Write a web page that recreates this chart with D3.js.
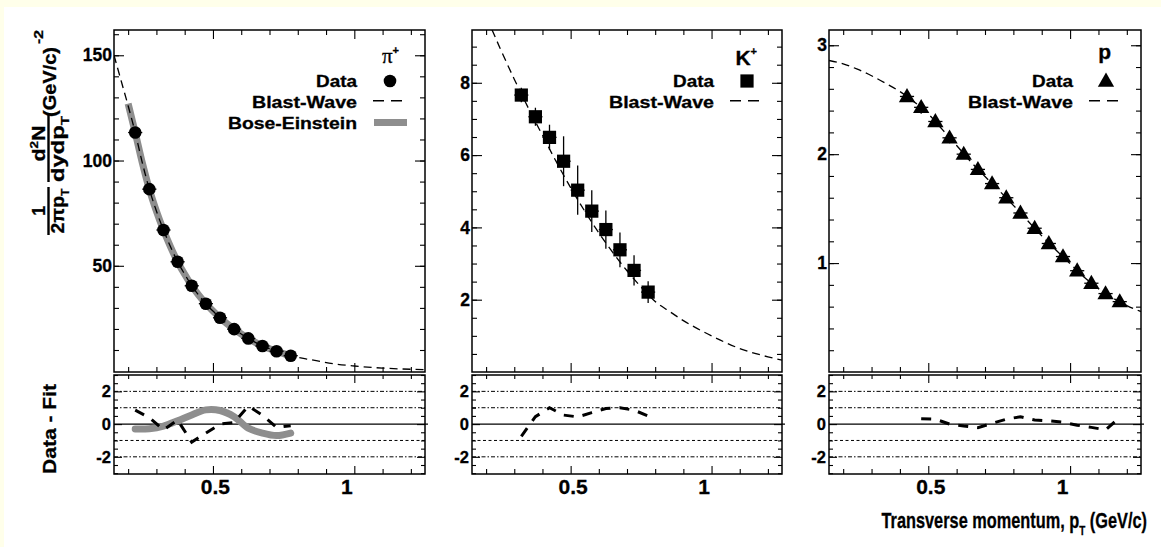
<!DOCTYPE html>
<html><head><meta charset="utf-8">
<script src="https://cdn.jsdelivr.net/npm/d3@7"></script>
<style>
html,body{margin:0;padding:0;background:#fff;}
svg{display:block;}
text{font-family:"Liberation Sans",Arial,Helvetica,sans-serif;font-weight:bold;fill:#000;stroke:#000;stroke-width:0.3px;}
</style></head><body>
<svg id="chart" width="1161" height="547"></svg>
<script>
// ---------------- DATA ----------------
// pi+ spectrum
const piPt  = [0.225,0.275,0.325,0.375,0.425,0.475,0.525,0.575,0.625,0.675,0.725,0.775];
const piVal = [113.3,86.4,67.0,51.9,40.5,32.0,25.3,19.9,15.5,11.9,9.4,7.3];
const piErr = [2.0,1.6,1.3,1.0,0.8,0.7,0.6,0.5,0.4,0.35,0.3,0.25];
const piBwResid = [0.85,0.4,-0.35,0.25,-1.1,-0.55,0.0,0.1,1.1,0.55,-0.2,-0.1];
const piBeResid = [-0.3,-0.28,-0.12,0.2,0.56,0.87,0.83,0.45,-0.25,-0.55,-0.7,-0.55];
const piBwCurvePt  = [0.15,0.175,0.2,0.225,0.25,0.275,0.3,0.325,0.35,0.375,0.4,0.425,0.45,0.475,0.5,0.525,0.55,0.575,0.6,0.625,0.65,0.675,0.7,0.725,0.75,0.775,0.85,0.925,1.0,1.1,1.25];
const piBwCurveVal = [150,138,126,113.3,99,86.4,76,67,59,51.9,46,40.5,36,32,28.5,25.3,22.5,19.9,17.6,15.5,13.6,11.9,10.6,9.4,8.3,7.3,5.3,3.5,2.4,1.4,0.7];
const piBeCurvePt  = [0.2,0.225,0.25,0.275,0.3,0.325,0.35,0.375,0.4,0.425,0.45,0.475,0.5,0.525,0.55,0.575,0.6,0.625,0.65,0.675,0.7,0.725,0.75,0.775];
const piBeCurveVal = [127,113.3,99,86.4,76,67,59,51.9,46,40.5,36,32,28.5,25.3,22.5,19.9,17.6,15.5,13.6,11.9,10.6,9.4,8.3,7.3];

// K+ spectrum
const kPt  = [0.325,0.375,0.425,0.475,0.525,0.575,0.625,0.675,0.725,0.775];
const kVal = [7.66,7.06,6.49,5.83,5.03,4.45,3.94,3.38,2.81,2.21];
const kErr = [0.2,0.25,0.35,0.69,0.68,0.58,0.53,0.48,0.42,0.3];
const kBwResid = [-0.75,0.45,1.0,0.55,0.44,0.7,0.95,1.0,0.85,0.5];
const kBwCurvePt  = [0.15,0.2,0.25,0.3,0.35,0.4,0.45,0.5,0.55,0.6,0.65,0.7,0.75,0.8,0.85,0.9,0.95,1.0,1.1,1.2,1.25];
const kBwCurveVal = [10.8,9.85,8.95,8.1,7.3,6.55,5.8,5.1,4.45,3.85,3.3,2.8,2.35,1.95,1.68,1.42,1.2,1.0,0.65,0.42,0.33];

// proton spectrum
const pPt  = [0.425,0.475,0.525,0.575,0.625,0.675,0.725,0.775,0.825,0.875,0.925,0.975,1.025,1.075,1.125,1.175];
const pVal = [2.53,2.43,2.30,2.15,2.00,1.86,1.73,1.60,1.46,1.32,1.18,1.06,0.93,0.815,0.72,0.646];
const pErr = [0.04,0.06,0.05,0.05,0.04,0.04,0.04,0.04,0.04,0.04,0.03,0.03,0.03,0.03,0.03,0.03];
const pResidPt = [0.475,0.525,0.575,0.625,0.675,0.725,0.775,0.825,0.875,0.925,0.975,1.025,1.075,1.125,1.175];
const pBwResid = [0.33,0.3,0.0,-0.12,-0.22,0.05,0.3,0.45,0.25,0.2,0.12,-0.07,-0.2,-0.35,0.4];
const pBwCurvePt  = [0.15,0.2,0.25,0.3,0.35,0.4,0.45,0.5,0.55,0.6,0.65,0.7,0.75,0.8,0.85,0.9,0.95,1.0,1.05,1.1,1.15,1.2,1.25];
const pBwCurveVal = [2.86,2.83,2.78,2.72,2.65,2.575,2.48,2.37,2.225,2.08,1.93,1.795,1.665,1.53,1.39,1.25,1.12,0.995,0.87,0.765,0.68,0.61,0.555];

const ptHalfBin = 0.025;

// axis ticks / labels
const xTickValues = [0.5, 1.0];
const xTickLabels = ["0.5", "1"];
const piYTickValues = [50, 100, 150];
const piYTickLabels = ["50", "100", "150"];
const kYTickValues = [2, 4, 6, 8];
const kYTickLabels = ["2", "4", "6", "8"];
const pYTickValues = [1, 2, 3];
const pYTickLabels = ["1", "2", "3"];
const resYTickValues = [-2, 0, 2];
const resYTickLabels = ["-2", "0", "2"];
const resRefLines = [2, 1, -1, -2];

const legendData = ["Data", "Blast-Wave", "Bose-Einstein"];

// ---------------- DRAWING ----------------
const W = 1161, H = 547;
const svg = d3.select("#chart");
svg.append("rect").attr("width", W).attr("height", H).attr("fill", "#ffffea");
svg.append("rect").attr("x", 4).attr("y", 7).attr("width", W - 4).attr("height", H - 7).attr("fill", "#fff");

const upperTop = 30, upperBot = 372, lowerTop = 375, lowerBot = 474;
const xDomain = [0.15, 1.25];
const GRAY = "#8e8e8e";

const panels = [
  { id: "pi", x0: 114, x1: 425, yDom: [-0.45, 162], yTicks: piYTickValues, yLabels: piYTickLabels, yMinor: d3.range(10, 161, 10),
    pt: piPt, val: piVal, err: piErr, marker: "circle",
    bwPt: piBwCurvePt, bwVal: piBwCurveVal, resPt: piPt, bwRes: piBwResid,
    bePt: piBeCurvePt, beVal: piBeCurveVal, beRes: piBeResid },
  { id: "k", x0: 472, x1: 782, yDom: [0, 9.46], yTicks: kYTickValues, yLabels: kYTickLabels, yMinor: d3.range(0.5, 9.4, 0.5),
    pt: kPt, val: kVal, err: kErr, marker: "square",
    bwPt: kBwCurvePt, bwVal: kBwCurveVal, resPt: kPt, bwRes: kBwResid },
  { id: "p", x0: 829, x1: 1141, yDom: [0, 3.14], yTicks: pYTickValues, yLabels: pYTickLabels, yMinor: d3.range(0.2, 3.1, 0.2),
    pt: pPt, val: pVal, err: pErr, marker: "triangle",
    bwPt: pBwCurvePt, bwVal: pBwCurveVal, resPt: pResidPt, bwRes: pBwResid }
];

function ticks(g, scale, orient, pos, values, size) {
  const gen = orient === "bottom" ? d3.axisBottom : orient === "top" ? d3.axisTop : orient === "left" ? d3.axisLeft : d3.axisRight;
  const axis = gen(scale).tickValues(values).tickSize(-size).tickFormat("");
  const tr = (orient === "bottom" || orient === "top") ? `translate(0,${pos})` : `translate(${pos},0)`;
  const a = g.append("g").attr("transform", tr).call(axis);
  a.select(".domain").remove();
  a.selectAll("line").attr("stroke", "#000").attr("stroke-width", 1.1);
  return a;
}
function styleLabels(sel, size) {
  sel.selectAll("text").attr("font-size", size).attr("font-family", "Liberation Sans, Arial, sans-serif")
    .attr("font-weight", "bold").attr("fill", "#000").attr("stroke", "#000").attr("stroke-width", 0.3);
}

panels.forEach((P, pi) => {
  const g = svg.append("g");
  const x = d3.scaleLinear().domain(xDomain).range([P.x0, P.x1]);
  const y = d3.scaleLinear().domain(P.yDom).range([upperBot, upperTop]);
  const yr = d3.scaleLinear().domain([-3.05, 3.0]).range([lowerBot, lowerTop]);
  const xMinor = d3.range(0.2, 1.21, 0.1).filter(v => Math.abs(v - 0.5) > 1e-6 && Math.abs(v - 1.0) > 1e-6);
  const resMinor = d3.range(-3, 3.01, 0.5).filter(v => Math.abs(v % 2) > 1e-6);

  const cu = "clipU" + pi, cl = "clipL" + pi;
  const defs = svg.append("defs");
  defs.append("clipPath").attr("id", cu).append("rect").attr("x", P.x0).attr("y", upperTop).attr("width", P.x1 - P.x0).attr("height", upperBot - upperTop);
  defs.append("clipPath").attr("id", cl).append("rect").attr("x", P.x0).attr("y", lowerTop).attr("width", P.x1 - P.x0).attr("height", lowerBot - lowerTop);

  // ---------- upper panel ----------
  const up = g.append("g").attr("clip-path", `url(#${cu})`);
  const line = d3.line().x(d => x(d[0])).y(d => y(d[1])).curve(d3.curveMonotoneX);
  if (P.bePt) {
    up.append("path").datum(d3.zip(P.bePt, P.beVal)).attr("d", line)
      .attr("fill", "none").attr("stroke", GRAY).attr("stroke-width", 7);
  }
  up.append("path").datum(d3.zip(P.bwPt, P.bwVal)).attr("d", line)
    .attr("fill", "none").attr("stroke", "#000").attr("stroke-width", 1.3).attr("stroke-dasharray", "8,5");

  const pts = d3.zip(P.pt, P.val, P.err);
  up.selectAll(".ev").data(pts).join("line")
    .attr("x1", d => x(d[0])).attr("x2", d => x(d[0]))
    .attr("y1", d => y(d[1] - d[2])).attr("y2", d => y(d[1] + d[2]))
    .attr("stroke", "#000").attr("stroke-width", 1.3);
  up.selectAll(".eh").data(pts).join("line")
    .attr("x1", d => x(d[0] - ptHalfBin)).attr("x2", d => x(d[0] + ptHalfBin))
    .attr("y1", d => y(d[1])).attr("y2", d => y(d[1]))
    .attr("stroke", "#000").attr("stroke-width", 1.3);

  const sym = P.marker === "circle" ? d3.symbolCircle : P.marker === "square" ? d3.symbolSquare : d3.symbolTriangle;
  const symSize = P.marker === "circle" ? 125 : P.marker === "square" ? 175 : 115;
  up.selectAll(".mk").data(pts).join("path")
    .attr("d", d3.symbol(sym, symSize))
    .attr("transform", d => `translate(${x(d[0])},${y(d[1]) + (P.marker === "triangle" ? 1 : 0)})`)
    .attr("fill", "#000");

  g.append("rect").attr("x", P.x0).attr("y", upperTop).attr("width", P.x1 - P.x0).attr("height", upperBot - upperTop)
    .attr("fill", "none").attr("stroke", "#000").attr("stroke-width", 1.5);
  ticks(g, x, "bottom", upperBot, xTickValues, 9);
  ticks(g, x, "bottom", upperBot, xMinor, 5);
  ticks(g, x, "top", upperTop, xTickValues, 9);
  ticks(g, x, "top", upperTop, xMinor, 5);
  ticks(g, y, "left", P.x0, P.yTicks, 10);
  ticks(g, y, "left", P.x0, P.yMinor, 5);
  ticks(g, y, "right", P.x1, P.yTicks, 10);
  ticks(g, y, "right", P.x1, P.yMinor, 5);
  const yl = g.append("g").attr("transform", `translate(${P.x0},0)`)
    .call(d3.axisLeft(y).tickValues(P.yTicks).tickFormat((d, i) => P.yLabels[i]).tickSize(0).tickPadding(2));
  yl.select(".domain").remove();
  styleLabels(yl, 17.5);

  // ---------- lower panel ----------
  const lo = g.append("g");
  resRefLines.forEach(v => {
    lo.append("line").attr("x1", P.x0).attr("x2", P.x1).attr("y1", yr(v)).attr("y2", yr(v))
      .attr("stroke", "#000").attr("stroke-width", 1)
      .attr("stroke-dasharray", v === -1 ? "3,2.5" : "4,2,1.5,2");
  });
  lo.append("line").attr("x1", P.x0).attr("x2", P.x1 + 3).attr("y1", yr(0)).attr("y2", yr(0))
    .attr("stroke", "#000").attr("stroke-width", 1.3);
  const loC = g.append("g").attr("clip-path", `url(#${cl})`);
  if (P.beRes) {
    loC.append("path").datum(d3.zip(P.pt, P.beRes))
      .attr("d", d3.line().x(d => x(d[0])).y(d => yr(d[1])).curve(d3.curveCatmullRom))
      .attr("fill", "none").attr("stroke", GRAY).attr("stroke-width", 7).attr("stroke-linecap", "round");
  }
  loC.append("path").datum(d3.zip(P.resPt, P.bwRes))
    .attr("d", d3.line().x(d => x(d[0])).y(d => yr(d[1])))
    .attr("fill", "none").attr("stroke", "#000").attr("stroke-width", 3).attr("stroke-dasharray", "10,9");

  g.append("rect").attr("x", P.x0).attr("y", lowerTop).attr("width", P.x1 - P.x0).attr("height", lowerBot - lowerTop)
    .attr("fill", "none").attr("stroke", "#000").attr("stroke-width", 1.5);
  ticks(g, x, "bottom", lowerBot, xTickValues, 8);
  ticks(g, x, "bottom", lowerBot, xMinor, 5);
  ticks(g, x, "top", lowerTop, xTickValues, 8);
  ticks(g, x, "top", lowerTop, xMinor, 4);
  ticks(g, yr, "left", P.x0, resYTickValues, 8);
  ticks(g, yr, "left", P.x0, resMinor, 4);
  ticks(g, yr, "right", P.x1, resYTickValues, 8);
  ticks(g, yr, "right", P.x1, resMinor, 4);
  const rl = g.append("g").attr("transform", `translate(${P.x0},0)`)
    .call(d3.axisLeft(yr).tickValues(resYTickValues).tickFormat((d, i) => resYTickLabels[i]).tickSize(0).tickPadding(3));
  rl.select(".domain").remove();
  styleLabels(rl, 16.5);

  const xl = g.append("g").attr("transform", `translate(0,${lowerBot})`)
    .call(d3.axisBottom(x).tickValues(xTickValues).tickFormat((d, i) => xTickLabels[i]).tickSize(0).tickPadding(5));
  xl.select(".domain").remove();
  styleLabels(xl, 21);
  xl.selectAll("text").attr("dx", (d, i) => xTickLabels[i] === "1" ? -8 : 2);

  // ---------- legend ----------
  const R = P.x1;
  const lg = g.append("g");
  if (P.id === "pi") {
    const t = lg.append("text").attr("x", R - 26).attr("y", 63).attr("text-anchor", "end");
    t.append("tspan").text("π").attr("font-family", "Liberation Serif, serif").attr("font-weight", "normal").attr("font-size", 21);
    t.append("tspan").text("+").attr("font-size", 11).attr("dy", -9);
  } else if (P.id === "k") {
    const t = lg.append("text").attr("x", R - 25).attr("y", 65).attr("text-anchor", "end");
    t.append("tspan").text("K").attr("font-size", 21);
    t.append("tspan").text("+").attr("font-size", 11).attr("dy", -10);
  } else {
    lg.append("text").attr("x", R - 30).attr("y", 59).attr("text-anchor", "end").attr("font-size", 21).text("p");
  }
  const tx = R - 68;
  const rows = P.id === "pi" ? legendData : legendData.slice(0, 2);
  const lens = { "Data": 41, "Blast-Wave": 105, "Bose-Einstein": 129 };
  rows.forEach((lab, i) => {
    const cy = 81 + i * 20.8;
    lg.append("text").attr("x", tx).attr("y", cy + 6).attr("text-anchor", "end").attr("font-size", 16.5)
      .attr("textLength", lens[lab]).attr("lengthAdjust", "spacingAndGlyphs").text(lab);
    const mx = R - 35;
    if (lab === "Data") {
      lg.append("path").attr("d", d3.symbol(sym, symSize)).attr("transform", `translate(${mx},${cy + (P.marker === "triangle" ? 1 : 0)})`).attr("fill", "#000");
    } else if (lab === "Blast-Wave") {
      lg.append("line").attr("x1", R - 52).attr("x2", R - 19).attr("y1", cy - 1).attr("y2", cy - 1)
        .attr("stroke", "#000").attr("stroke-width", 1.4).attr("stroke-dasharray", "11,7");
    } else {
      lg.append("line").attr("x1", R - 51).attr("x2", R - 18).attr("y1", cy).attr("y2", cy)
        .attr("stroke", GRAY).attr("stroke-width", 7);
    }
  });
});

// ---------- axis titles ----------
const rot = svg.append("g").attr("transform", "rotate(-90)");
function rtext(cy, bx, size, len) {
  const t = rot.append("text").attr("x", -cy).attr("y", bx).attr("text-anchor", "middle").attr("font-size", size);
  if (len) t.attr("textLength", len).attr("lengthAdjust", "spacingAndGlyphs");
  return t;
}
rtext(82, 56, 17.5, 70).text("(GeV/c)");
rtext(37, 43, 12, 14).text("-2");
{
  const t = rtext(143.5, 45, 17.5, 36);
  t.append("tspan").text("d");
  t.append("tspan").text("2").attr("font-size", 11).attr("dy", -7);
  t.append("tspan").text("N").attr("dy", 7);
}
rot.append("line").attr("x1", -182).attr("x2", -113).attr("y1", 48.5).attr("y2", 48.5).attr("stroke", "#000").attr("stroke-width", 2.4);
{
  const t = rtext(149, 63.5, 17.5, 66);
  t.append("tspan").text("dydp");
  t.append("tspan").text("T").attr("font-size", 11).attr("dy", 5);
}
rtext(211, 45, 17.5).text("1");
rot.append("line").attr("x1", -235).attr("x2", -187).attr("y1", 48.5).attr("y2", 48.5).attr("stroke", "#000").attr("stroke-width", 2.4);
{
  const t = rtext(211, 63.5, 17.5, 45);
  t.append("tspan").text("2πp");
  t.append("tspan").text("T").attr("font-size", 11).attr("dy", 5);
}
rtext(429, 56, 17.5, 90).text("Data - Fit");

// x title (condensed, right aligned)
{
  const gx = svg.append("g").attr("transform", "translate(1147,528) scale(0.76,1)");
  const t = gx.append("text").attr("x", 0).attr("y", 0).attr("text-anchor", "end").attr("font-size", 21.5);
  t.append("tspan").text("Transverse momentum,  p");
  t.append("tspan").text("T").attr("font-size", 13).attr("dy", 7);
  t.append("tspan").text(" (GeV/c)").attr("dy", -7);
}
</script>
</body></html>
